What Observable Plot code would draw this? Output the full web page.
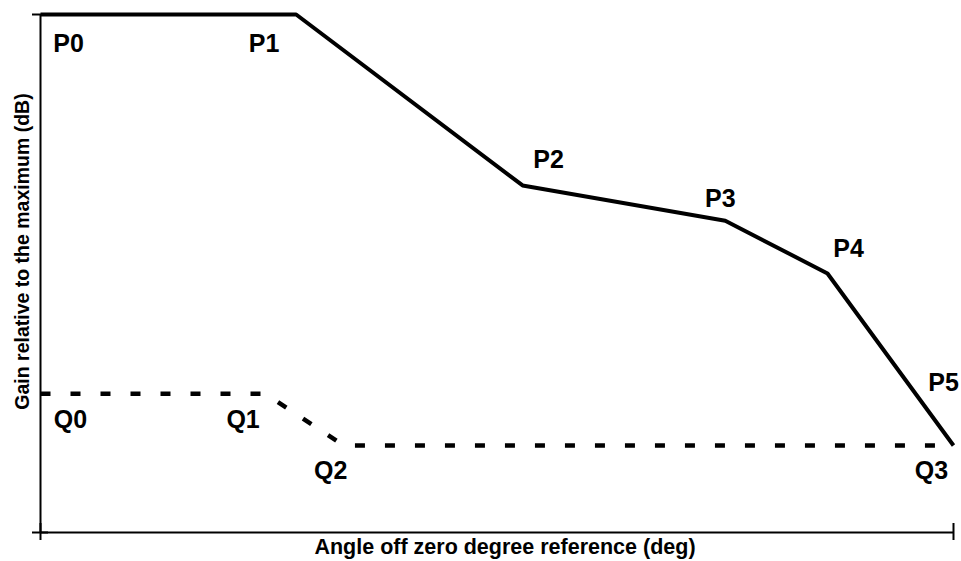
<!DOCTYPE html>
<html>
<head>
<meta charset="utf-8">
<script src="https://cdn.jsdelivr.net/npm/d3@7"></script>
<script src="https://cdn.jsdelivr.net/npm/@observablehq/plot@0.6"></script>
<style>
  html, body { margin: 0; padding: 0; background: #fff; }
  #chart svg { display: block; }
</style>
</head>
<body>
<div id="chart"></div>
<script>
// ---- data (normalized angle 0..100, gain 0..100) ----
const pNames = ["P0", "P1", "P2", "P3", "P4", "P5"];
const pAngle = [0, 28, 52.8, 75.0, 86.2, 100];
const pGain  = [100, 100, 67.0, 60.2, 50.0, 16.8];

const qNames = ["Q0", "Q1", "Q2", "Q3"];
const qAngle = [0, 24.6, 33.2, 100];
const qGain  = [26.8, 26.8, 16.8, 16.8];

const xTicks = [0, 100];
const yTicks = [0, 100];

const xLabel = "Angle off zero degree reference (deg)";
const yLabel = "Gain relative to the maximum (dB)";

// ---- build tables ----
const P = pNames.map((n, i) => ({name: n, x: pAngle[i], y: pGain[i]}));
const Q = qNames.map((n, i) => ({name: n, x: qAngle[i], y: qGain[i]}));

// label offsets (pixels) relative to each vertex
const pOffsets = [[28, 29], [-32, 29], [26, -25], [-5, -22], [21, -25], [-10, -62]];
const qOffsets = [[30, 26], [-22, 26], [-13, 26], [-22, 26]];

const font = "'Liberation Sans', Arial, Helvetica, sans-serif";

const labelMarks = [
  ...P.map((d, i) => Plot.text([d], {x: "x", y: "y", text: "name", dx: pOffsets[i][0], dy: pOffsets[i][1],
    fontSize: 25, fontWeight: "bold", fill: "black"})),
  ...Q.map((d, i) => Plot.text([d], {x: "x", y: "y", text: "name", dx: qOffsets[i][0], dy: qOffsets[i][1],
    fontSize: 25, fontWeight: "bold", fill: "black"}))
];

const chart = Plot.plot({
  width: 961,
  height: 561,
  marginLeft: 40,
  marginRight: 8,
  marginTop: 14,
  marginBottom: 29,
  style: {fontFamily: font, background: "#fff", color: "black"},
  x: {domain: [0, 100], axis: null},
  y: {domain: [0, 100], axis: null},
  marks: [
    // axis lines
    Plot.ruleX([xTicks[0]], {stroke: "black", strokeWidth: 2}),
    Plot.ruleY([yTicks[0]], {stroke: "black", strokeWidth: 2}),
    // tick marks at the ends
    Plot.ruleY(yTicks, {y: d => d, x1: xTicks[0], x2: xTicks[0], insetLeft: -8, insetRight: -8, stroke: "black", strokeWidth: 2}),
    Plot.ruleX(xTicks, {x: d => d, y1: yTicks[0], y2: yTicks[0], insetTop: -9, insetBottom: -8, stroke: "black", strokeWidth: 2}),
    // data lines
    Plot.line(Q, {x: "x", y: "y", stroke: "black", strokeWidth: 4.5, strokeDasharray: "10,20",
      strokeLinecap: "butt", strokeLinejoin: "miter"}),
    Plot.line(P, {x: "x", y: "y", stroke: "black", strokeWidth: 4,
      strokeLinecap: "butt", strokeLinejoin: "miter"}),
    ...labelMarks,
    // axis titles
    Plot.text([xLabel], {frameAnchor: "bottom", text: d => d, textAnchor: "middle", lineAnchor: "middle",
      dx: 8, dy: 15, fontSize: 21.5, fontWeight: "bold", fill: "black"}),
    Plot.text([yLabel], {frameAnchor: "left", text: d => d, textAnchor: "middle", lineAnchor: "middle",
      rotate: -90, dx: -18, dy: -22, fontSize: 19.5, fontWeight: "bold", fill: "black"})
  ]
});

document.getElementById("chart").appendChild(chart);
</script>
</body>
</html>
